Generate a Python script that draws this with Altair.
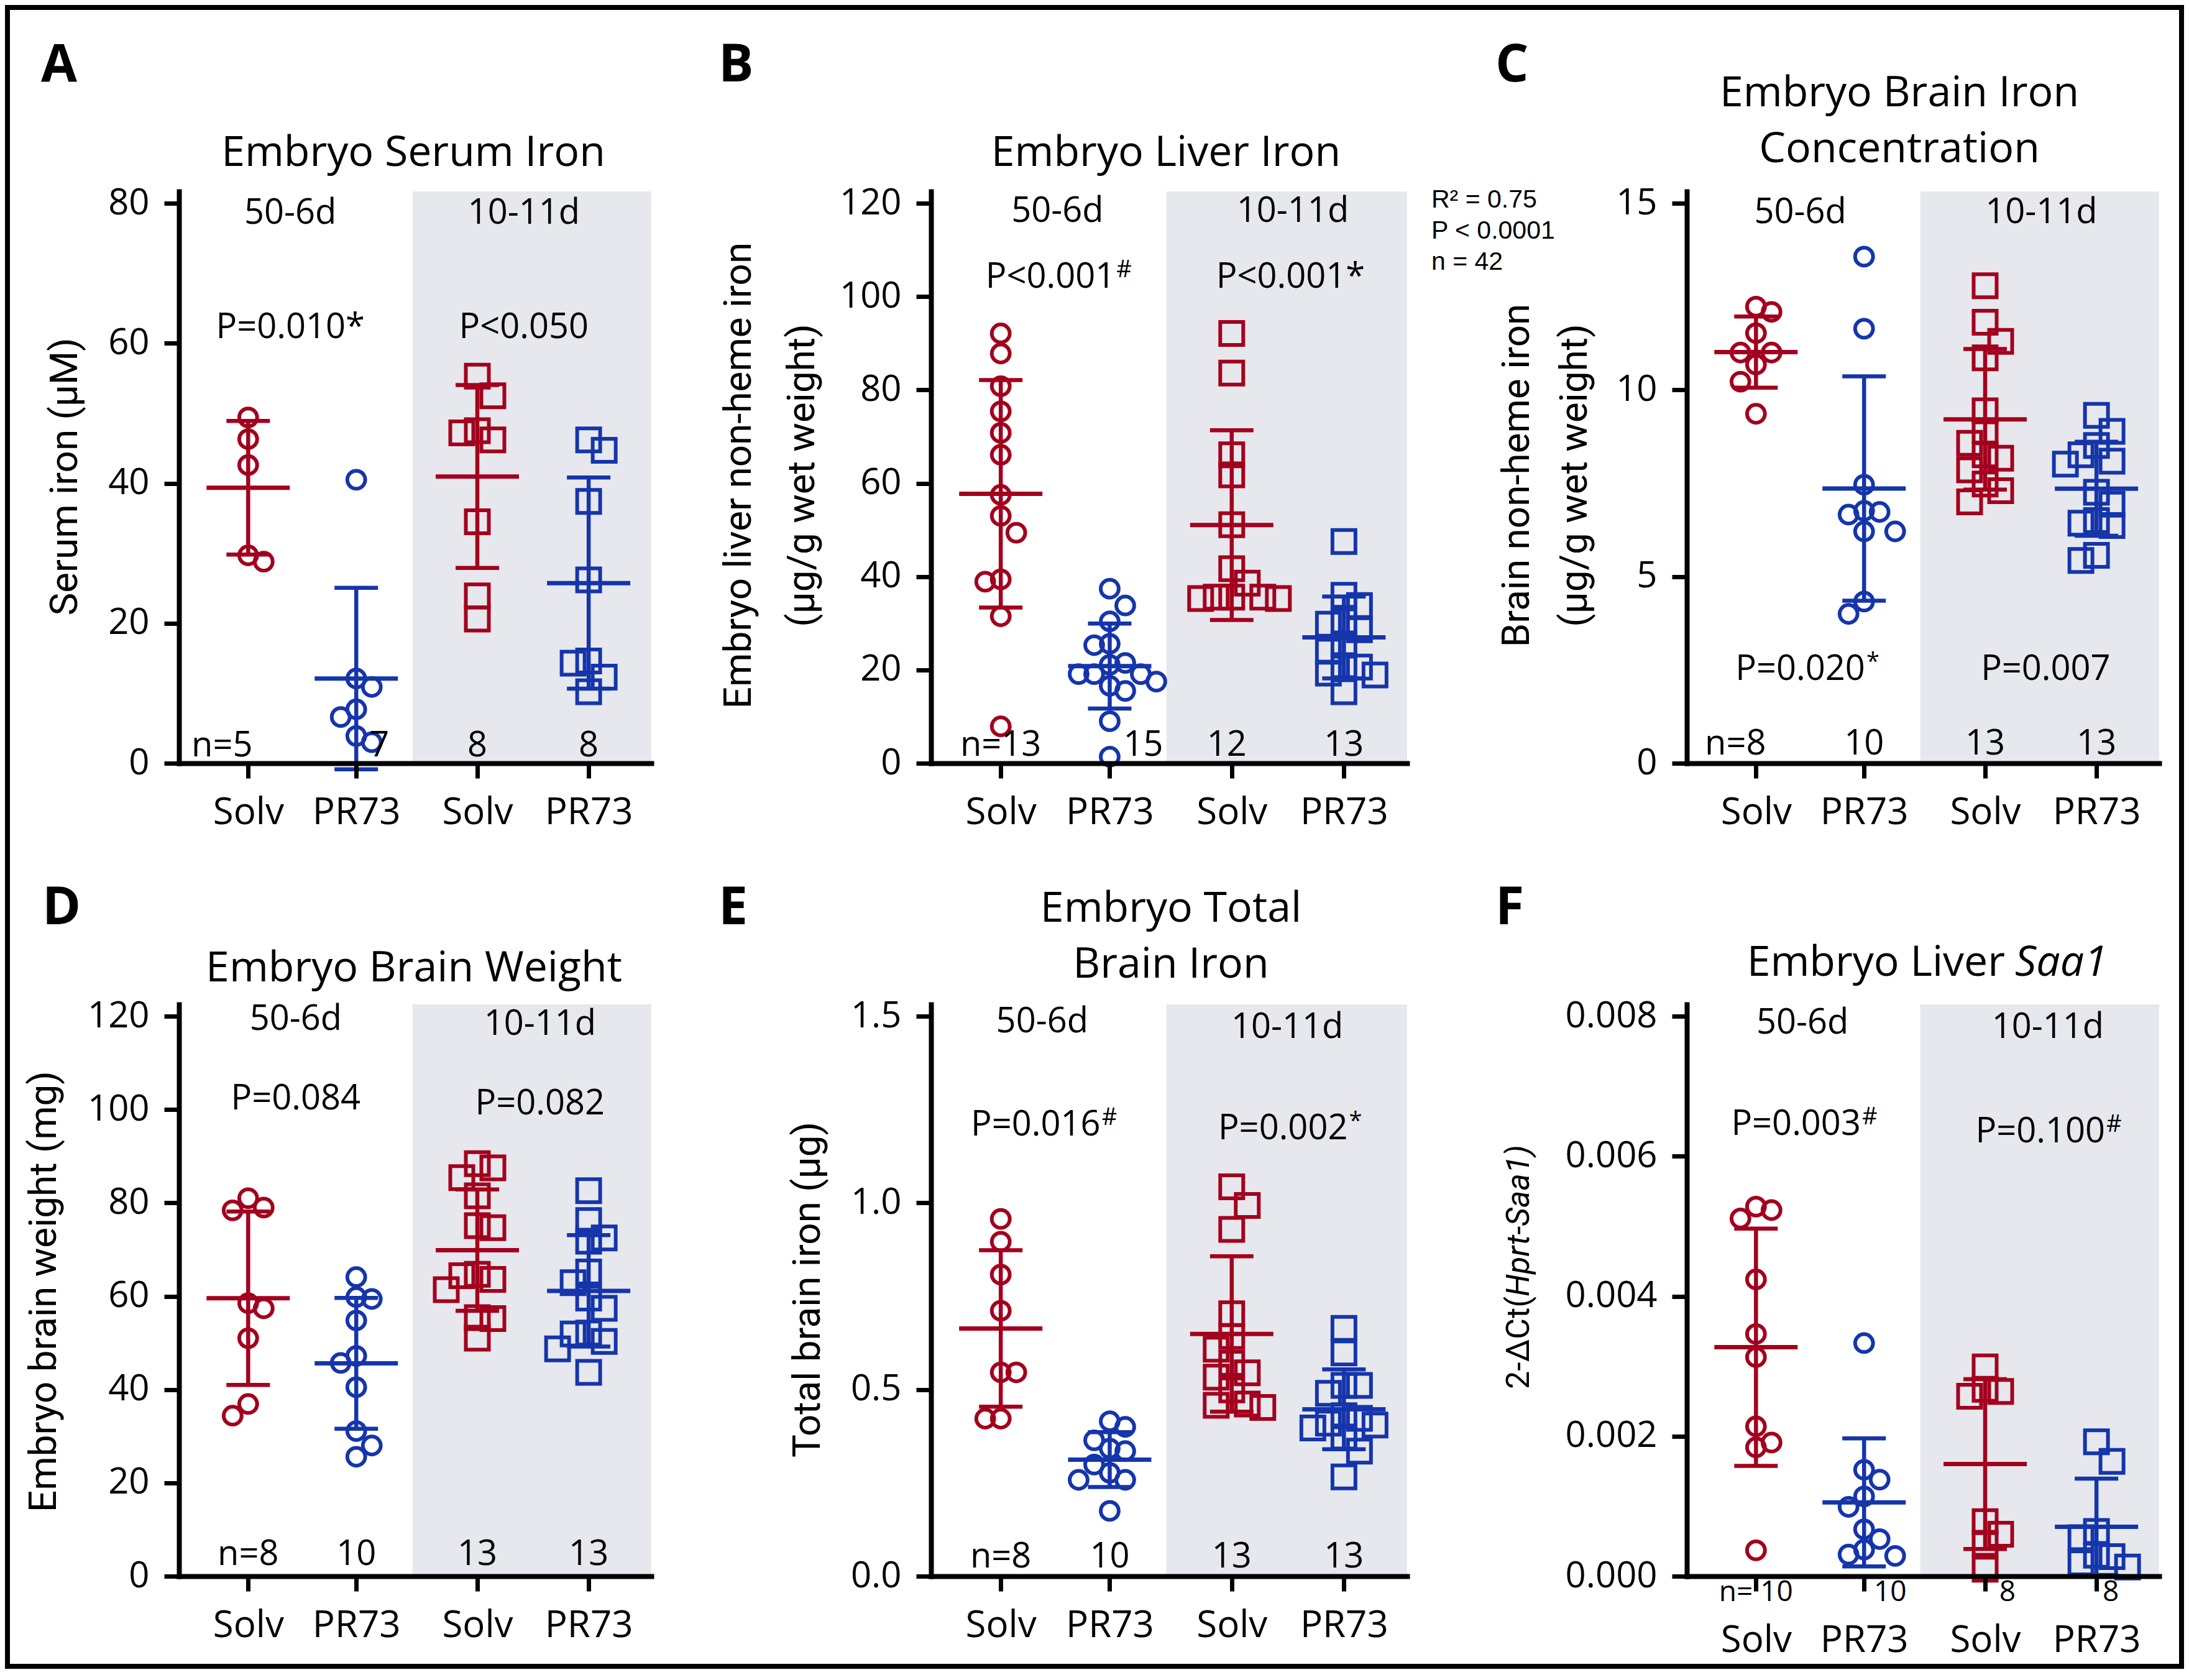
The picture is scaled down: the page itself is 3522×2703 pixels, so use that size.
import altair as alt
import pandas as pd

RED = "#A3001D"
BLUE = "#1535AB"
GRAY = "#E6E8ED"
FONT = "Open Sans"
NARROW = "Roboto"

TREATMENTS = ["Solv", "PR73", "Solv", "PR73"]
PERIODS = ["50-6d", "50-6d", "10-11d", "10-11d"]
XPOS = [1.0, 2.0, 3.12, 4.15]
X_MIN, X_MAX, SHADE_START = 0.36, 4.73, 2.52

# ---------------- data ----------------
A_SOLV_50 = [49.4, 46.3, 42.6, 29.7, 28.8]
A_PR73_50 = [40.5, 12.1, 10.9, 7.7, 6.6, 3.9, 3.0]
A_SOLV_10 = [55.3, 52.5, 47.5, 47.2, 46.2, 34.5, 23.9, 20.6]
A_PR73_10 = [46.2, 44.7, 37.4, 26.2, 14.6, 14.3, 12.3, 10.2]

B_SOLV_50 = [92.1, 87.8, 80.8, 75.4, 70.8, 66.1, 57.5, 53.0, 49.4, 39.4, 38.9, 31.5, 7.9]
B_PR73_50 = [37.4, 33.8, 30.4, 25.6, 25.3, 21.5, 21.1, 19.1, 19.1, 19.1, 17.5, 16.6, 15.5, 9.0, 1.4]
B_SOLV_10 = [92.1, 83.6, 66.1, 61.8, 51.1, 41.7, 38.6, 35.6, 35.6, 35.6, 35.3, 35.3]
B_PR73_10 = [47.5, 36.0, 33.8, 30.5, 29.8, 28.6, 25.3, 24.0, 20.9, 20.6, 19.3, 18.9, 15.3]

C_SOLV_50 = [12.23, 12.09, 11.52, 11.0, 11.0, 10.68, 10.22, 9.36]
C_PR73_50 = [13.57, 11.64, 7.46, 6.76, 6.73, 6.66, 6.21, 6.21, 4.33, 4.0]
C_SOLV_10 = [12.79, 11.81, 11.30, 10.86, 9.44, 8.90, 8.57, 8.26, 8.17, 7.86, 7.48, 7.30, 7.00]
C_PR73_10 = [9.32, 8.89, 8.51, 8.26, 8.09, 8.01, 7.26, 6.94, 6.50, 6.43, 6.37, 5.57, 5.43]

D_SOLV_50 = [81.0, 79.0, 78.4, 58.5, 57.4, 51.0, 36.9, 34.4]
D_PR73_50 = [64.1, 59.8, 59.4, 54.8, 47.2, 45.7, 40.5, 31.1, 28.0, 25.6]
D_SOLV_10 = [88.4, 87.5, 85.4, 81.5, 75.1, 74.7, 64.7, 64.4, 63.6, 61.4, 55.4, 55.2, 51.0]
D_PR73_10 = [82.6, 76.2, 72.5, 71.8, 65.2, 62.9, 59.6, 57.4, 52.1, 51.9, 50.3, 48.7, 43.7]

E_SOLV_50 = [0.957, 0.896, 0.808, 0.711, 0.546, 0.546, 0.422, 0.422]
E_PR73_50 = [0.415, 0.400, 0.364, 0.342, 0.335, 0.299, 0.277, 0.258, 0.258, 0.175]
E_SOLV_10 = [1.043, 0.993, 0.929, 0.703, 0.642, 0.608, 0.570, 0.545, 0.533, 0.499, 0.461, 0.458, 0.452]
E_PR73_10 = [0.664, 0.598, 0.511, 0.511, 0.490, 0.430, 0.423, 0.410, 0.405, 0.397, 0.373, 0.335, 0.266]

F_SOLV_50 = [0.00528, 0.00523, 0.00511, 0.00424, 0.00346, 0.00313, 0.00214, 0.00191, 0.00184, 0.00037]
F_PR73_50 = [0.00333, 0.00152, 0.00138, 0.00114, 0.00099, 0.00067, 0.00053, 0.00038, 0.00031, 0.00029]
F_SOLV_10 = [0.00299, 0.00267, 0.00264, 0.00257, 0.00078, 0.00060, 0.00047, 0.00010]
F_PR73_10 = [0.00192, 0.00164, 0.00064, 0.00055, 0.00030, 0.00028, 0.00019, 0.00013]

PANELS = [
    dict(letter="A", groups=[A_SOLV_50, A_PR73_50, A_SOLV_10, A_PR73_10],
         ticks=[0, 20, 40, 60, 80], fmt="d",
         titles=[("Embryo Serum Iron", 377, -41)],
         ytitles=[("Serum iron (µM)", -183, 459)],
         period_x=[1.39, 3.55], period_y=[77.1, 77.1],
         pvals=[("P=0.010*", "", 1.39, 60.7), ("P<0.050", "", 3.55, 60.7)],
         nlab=["n=5", "7", "8", "8"], ndx=[-42, 37, 0, 0], nypx=11, nsize=56, xpad=26,
         letter_pos=(-222, -177)),
    dict(letter="B", groups=[B_SOLV_50, B_PR73_50, B_SOLV_10, B_PR73_10],
         ticks=[0, 20, 40, 60, 80, 100, 120], fmt="d",
         titles=[("Embryo Liver Iron", 378, -41)],
         ytitles=[("Embryo liver non-heme iron", -309, 457), ("(µg/g wet weight)", -207, 457)],
         period_x=[1.52, 3.68], period_y=[116.0, 116.0],
         pvals=[("P<0.001", "#", 1.455, 101.9), ("P<0.001*", "", 3.66, 101.9)],
         nlab=["n=13", "15", "12", "13"], ndx=[0, 54, -8, 0], nypx=12, nsize=56, xpad=26,
         letter_pos=(-342, -177)),
    dict(letter="C", groups=[C_SOLV_50, C_PR73_50, C_SOLV_10, C_PR73_10],
         ticks=[0, 5, 10, 15], fmt="d",
         titles=[("Embryo Brain Iron", 342, -137), ("Concentration", 342, -47)],
         ytitles=[("Brain non-heme iron", -273, 457), ("(µg/g wet weight)", -180, 457)],
         period_x=[1.41, 3.64], period_y=[14.47, 14.47],
         pvals=[("P=0.020", "*", 1.41, 2.23), ("P=0.007", "", 3.68, 2.23)],
         nlab=["n=8", "10", "13", "13"], ndx=[-33, 0, 0, 0], nypx=14, nsize=56, xpad=26,
         letter_pos=(-308, -177)),
    dict(letter="D", groups=[D_SOLV_50, D_PR73_50, D_SOLV_10, D_PR73_10],
         ticks=[0, 20, 40, 60, 80, 100, 120], fmt="d",
         titles=[("Embryo Brain Weight", 378, -37)],
         ytitles=[("Embryo brain weight (mg)", -217, 462)],
         period_x=[1.44, 3.70], period_y=[117.1, 116.0],
         pvals=[("P=0.084", "", 1.44, 100.0), ("P=0.082", "", 3.70, 99.0)],
         nlab=["n=8", "10", "13", "13"], ndx=[0, 0, 0, 0], nypx=18, nsize=56, xpad=26,
         letter_pos=(-220, -129)),
    dict(letter="E", groups=[E_SOLV_50, E_PR73_50, E_SOLV_10, E_PR73_10],
         ticks=[0, 0.5, 1.0, 1.5], fmt=".1f",
         titles=[("Embryo Total", 386, -133), ("Brain Iron", 386, -43)],
         ytitles=[("Total brain iron (µg)", -198, 459)],
         period_x=[1.38, 3.63], period_y=[1.457, 1.442],
         pvals=[("P=0.016", "#", 1.32, 1.18), ("P=0.002", "*", 3.59, 1.17)],
         nlab=["n=8", "10", "13", "13"], ndx=[0, 0, 0, 0], nypx=14, nsize=56, xpad=26,
         letter_pos=(-342, -129)),
    dict(letter="F", groups=[F_SOLV_50, F_PR73_50, F_SOLV_10, F_PR73_10],
         ticks=[0, 0.002, 0.004, 0.006, 0.008], fmt=".3f",
         titles=[],
         ytitles=[],
         period_x=[1.43, 3.70], period_y=[0.00775, 0.00769],
         pvals=[("P=0.003", "#", 1.37, 0.0063), ("P=0.100", "#", 3.63, 0.0062)],
         nlab=["n= 10", "10", "8", "8"], ndx=[0, 42, 36, 23], nypx=-40, nsize=46, xpad=50,
         letter_pos=(-308, -129)),
]

COL_W = [760, 766, 760]
H = 920
TOP_FACTOR = 920.0 / 901.0

OS_W = {"P": 0.603, "=": 0.572, "<": 0.572, ".": 0.266, "*": 0.551, "#": 0.723, "n": 0.613, " ": 0.26}


def text_w(s, size):
    return sum(OS_W.get(ch, 0.572) for ch in s) * size


def swarm_offsets(vals, pxu_y, col=25.0, band=32.0):
    """Column-based scatter: points whose vertical distance is below `band`
    pixels must sit in different columns `col` pixels apart."""
    n = len(vals)
    order = sorted(range(n), key=lambda i: -vals[i])
    placed = []
    offs = [0.0] * n
    flip = 1
    for i in order:
        y = vals[i] * pxu_y
        chosen = None
        for k in range(0, 14):
            cands = [0.0] if k == 0 else [flip * k * col, -flip * k * col]
            for c in cands:
                if all(not (abs(c - px) < col - 0.1 and abs(y - py) < band) for px, py in placed):
                    chosen = c
                    break
            if chosen is not None:
                break
        if chosen is None:
            chosen = 0.0
        if chosen != 0:
            flip = -flip
        offs[i] = chosen
        placed.append((chosen, y))
    return offs


ONE = pd.DataFrame({"k": [0]})


def vtext(text, x, y, size, align="center", baseline="alphabetic", font=FONT,
          weight="normal", style="normal", angle=0):
    kw = dict(text=text, fontSize=size, align=align, baseline=baseline, font=font,
              fontWeight=weight, fontStyle=style, color="black")
    if angle:
        kw["angle"] = angle
    return alt.Chart(ONE).mark_text(**kw).encode(x=alt.value(x), y=alt.value(y))


def make_panel(idx, cfg):
    W = COL_W[idx % 3]
    top = cfg["ticks"][-1]
    dom_top = top * TOP_FACTOR
    pxu_x = W / (X_MAX - X_MIN)
    pxu_y = H / dom_top

    rows = []
    for gi, vals in enumerate(cfg["groups"]):
        offs = swarm_offsets(vals, pxu_y)
        for v, o in zip(vals, offs):
            rows.append(dict(g=gi, treat=TREATMENTS[gi], period=PERIODS[gi],
                             xc=XPOS[gi], x=XPOS[gi] + o / pxu_x, value=v))
    df = pd.DataFrame(rows)

    xs = alt.Scale(domain=[X_MIN, X_MAX], nice=False, zero=False)
    ys = alt.Scale(domain=[0, dom_top], nice=False, zero=False)
    color = alt.Color("treat:N", scale=alt.Scale(domain=["Solv", "PR73"], range=[RED, BLUE]), legend=None)

    label_expr = "[%s][indexof([%s], datum.value)]" % (
        ",".join("'%s'" % t for t in TREATMENTS), ",".join(repr(v) for v in XPOS))
    xaxis = alt.Axis(values=XPOS, labelExpr=label_expr, title=None, labelFont=FONT,
                     labelFontSize=60, labelPadding=cfg["xpad"], tickSize=24, tickWidth=7,
                     domainWidth=8, domainColor="black", tickColor="black",
                     labelColor="black", grid=False, labelFlush=False, labelOverlap=False,
                     zindex=1, domainCap="square")
    yaxis = alt.Axis(values=cfg["ticks"], format=cfg["fmt"], title=None, labelFont=FONT,
                     labelFontSize=58, labelPadding=24, tickSize=24, tickWidth=7,
                     domainWidth=8, domainColor="black", tickColor="black",
                     labelColor="black", grid=False, labelFlush=False, labelOverlap=False,
                     zindex=1, domainCap="square")

    def X(field):
        return alt.X(field, scale=xs, axis=xaxis)

    def Y(field):
        return alt.Y(field, scale=ys, axis=yaxis)

    shade = alt.Chart(ONE).mark_rect(color=GRAY).encode(
        x=alt.XDatum(SHADE_START, scale=xs, axis=xaxis), x2=alt.datum(X_MAX),
        y=alt.YDatum(0, scale=ys, axis=yaxis), y2=alt.datum(dom_top))

    points = alt.Chart(df).mark_point(filled=False, strokeWidth=6, opacity=1).encode(
        x=X("x:Q"),
        y=Y("value:Q"),
        color=color,
        shape=alt.Shape("period:N", scale=alt.Scale(domain=["50-6d", "10-11d"], range=["circle", "square"]), legend=None),
        size=alt.Size("period:O", scale=alt.Scale(domain=["50-6d", "10-11d"], range=[830, 1369]), legend=None),
    )

    stats = alt.Chart(df).transform_aggregate(
        m="mean(value)", s="stdev(value)", groupby=["xc", "treat"]
    ).transform_calculate(lo="datum.m - datum.s", hi="datum.m + datum.s")

    bar = stats.mark_rule(strokeWidth=6.5).encode(x=X("xc:Q"), y=Y("lo:Q"), y2="hi:Q", color=color)
    mean_t = stats.mark_tick(orient="horizontal", size=134, thickness=7, opacity=1).encode(
        x=X("xc:Q"), y=Y("m:Q"), color=color)
    lo_t = stats.mark_tick(orient="horizontal", size=70, thickness=6.5, opacity=1).encode(
        x=X("xc:Q"), y=Y("lo:Q"), color=color)
    hi_t = stats.mark_tick(orient="horizontal", size=70, thickness=6.5, opacity=1).encode(
        x=X("xc:Q"), y=Y("hi:Q"), color=color)

    ann = []
    sup = []
    for k, name in enumerate(["50-6d", "10-11d"]):
        ann.append(dict(x=cfg["period_x"][k], y=cfg["period_y"][k], t=name))
    for main, s, px, py in cfg["pvals"]:
        ann.append(dict(x=px, y=py, t=main))
        if s:
            sup.append(dict(x=px + (text_w(main, 56) / 2 + 2) / pxu_x, y=py, t=s))
    nrows = []
    for gi, lab in enumerate(cfg["nlab"]):
        nrows.append(dict(x=XPOS[gi] + cfg["ndx"][gi] / pxu_x, y=cfg["nypx"] / pxu_y, t=lab))

    ann_l = alt.Chart(pd.DataFrame(ann)).mark_text(font=FONT, fontSize=56, color="black",
                                                    align="center", baseline="alphabetic").encode(
        x=X("x:Q"), y=Y("y:Q"), text="t:N")
    n_l = alt.Chart(pd.DataFrame(nrows)).mark_text(font=FONT, fontSize=cfg["nsize"], color="black",
                                                    align="center", baseline="alphabetic").encode(
        x=X("x:Q"), y=Y("y:Q"), text="t:N")
    layers = [shade, points, bar, mean_t, lo_t, hi_t, ann_l, n_l]
    if sup:
        layers.append(alt.Chart(pd.DataFrame(sup)).mark_text(
            font=FONT, fontSize=38, color="black", align="left", baseline="alphabetic", dy=-17).encode(
            x=X("x:Q"), y=Y("y:Q"), text="t:N"))

    for t, tx, ty in cfg["titles"]:
        layers.append(vtext(t, tx, ty, 68))
    for t, tx, ty in cfg["ytitles"]:
        layers.append(vtext(t, tx, ty, 62, baseline="middle", font=NARROW, angle=270))
    lx, ly = cfg["letter_pos"]
    layers.append(vtext(cfg["letter"], lx, ly, 84, align="left", weight="bold"))

    if cfg["letter"] == "F":
        layers.append(vtext("Embryo Liver", 512, -46, 68, align="right"))
        layers.append(vtext("Saa1", 528, -46, 68, align="left", style="italic"))
        layers.append(vtext("2-ΔCt(", -270, 470, 52, align="right", baseline="middle", font=NARROW, angle=270))
        layers.append(vtext("Hprt-Saa1)", -270, 470, 52, align="left", baseline="middle", font=NARROW,
                            style="italic", angle=270))
    if cfg["letter"] == "B":
        for i, t in enumerate(["R² = 0.75", "P < 0.0001", "n = 42"]):
            layers.append(vtext(t, 805, 26 + 50 * i, 41, align="left", font="Liberation Sans"))
    if cfg["letter"] == "A":
        frame = alt.Chart(ONE).mark_rect(fillOpacity=0, stroke="black", strokeWidth=8).encode(
            x=alt.value(-276), x2=alt.value(3222), y=alt.value(-296), y2=alt.value(2373))
        layers.append(frame)

    return alt.layer(*layers).properties(width=W, height=H)


panels = [make_panel(i, cfg) for i, cfg in enumerate(PANELS)]

chart = alt.concat(*panels, columns=3, spacing={"row": 388, "column": 450}, bounds="flush").properties(
    padding=0, background="white"
).configure_view(stroke=None)

chart.save("out.html", embed_options={"renderer": "svg", "actions": False})
